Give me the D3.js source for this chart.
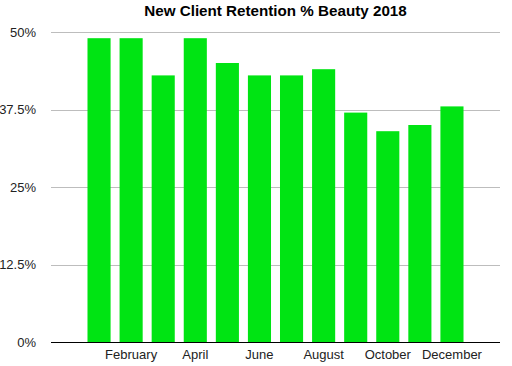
<!DOCTYPE html>
<html><head><meta charset="utf-8">
<script src="https://cdn.jsdelivr.net/npm/d3@7"></script>
<style>body{margin:0;background:#fff}svg{display:block}</style>
</head><body>
<script>
const months = ["January","February","March","April","May","June","July","August","September","October","November","December"];
const values = [49,49,43,49,45,43,43,44,37,34,35,38];
const yTicks = [0,12.5,25,37.5,50];
const yTickLabels = ["0%","12.5%","25%","37.5%","50%"];
const chartTitle = "New Client Retention % Beauty 2018";

(function(){
const W=512,H=366;
const svg=d3.select("body").append("svg").attr("width",W).attr("height",H);
const font="'Liberation Sans', Arial, Helvetica, sans-serif";
const pLeft=51,pRight=500,pTop=32,pBottom=342;

const x=d3.scaleBand().domain(months).range([83,468]).paddingInner(0.28).paddingOuter(0.14);
const y=d3.scaleLinear().domain([0,50]).range([pBottom,pTop]);

svg.append("text").attr("x",(pLeft+pRight)/2).attr("y",16).attr("text-anchor","middle")
  .attr("font-family",font).attr("font-weight","bold").attr("font-size",15.2).attr("fill","#000").text(chartTitle);

const g=svg.append("g");
g.selectAll("line.grid").data(yTicks.filter(d=>d>0)).join("line").attr("class","grid")
  .attr("x1",pLeft).attr("x2",pRight).attr("y1",d=>Math.round(y(d))+0.5).attr("y2",d=>Math.round(y(d))+0.5)
  .attr("stroke","#bdbdbd").attr("stroke-width",1);
g.selectAll("text.yl").data(yTicks).join("text").attr("class","yl")
  .attr("x",36).attr("y",d=>y(d)+4.5).attr("text-anchor","end")
  .attr("font-family",font).attr("font-size",13).attr("fill","#222")
  .text((d,i)=>yTickLabels[i]);

g.selectAll("rect").data(values).join("rect")
  .attr("x",(d,i)=>x(months[i])).attr("width",x.bandwidth())
  .attr("y",d=>y(d)).attr("height",d=>pBottom-y(d)).attr("fill","#00e413");

g.append("line").attr("x1",pLeft).attr("x2",pRight).attr("y1",pBottom+0.5).attr("y2",pBottom+0.5)
  .attr("stroke","#000").attr("stroke-width",1);

g.selectAll("text.xl").data(months.filter((d,i)=>i%2===1)).join("text").attr("class","xl")
  .attr("x",d=>x(d)+x.bandwidth()/2).attr("y",359).attr("text-anchor","middle")
  .attr("font-family",font).attr("font-size",13).attr("fill","#222").text(d=>d);
})();
</script>
</body></html>
